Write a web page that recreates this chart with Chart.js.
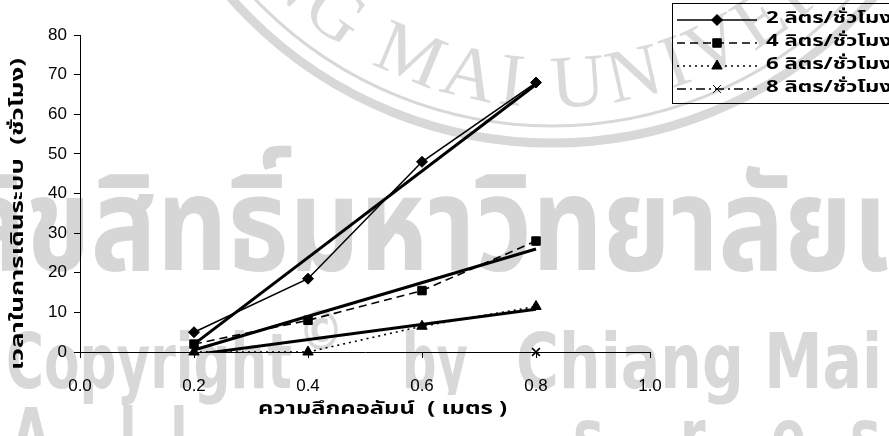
<!DOCTYPE html>
<html lang="th">
<head>
<meta charset="utf-8">
<title>เวลาในการเดินระบบ</title>
<script src="https://cdn.jsdelivr.net/npm/chart.js@4.4.1/dist/chart.umd.min.js"></script>
<style>
  html, body { margin: 0; padding: 0; background: #fff; }
  canvas { display: block; }
</style>
</head>
<body>
<canvas id="chart" width="889" height="436"></canvas>
<script>
// Column depth (m) against operating time (h) for each flow rate
const depths = [0.2, 0.4, 0.6, 0.8];
const flowLabels = ['2 ลิตร/ชั่วโมง', '4 ลิตร/ชั่วโมง', '6 ลิตร/ชั่วโมง', '8 ลิตร/ชั่วโมง'];
const hours2 = [5, 18.5, 48, 68];
const hours4 = [2, 8, 15.5, 28];
const hours6 = [0, 0, 6.5, 11.5];
const hours8 = [null, null, null, 0];

// Linear trend lines, from 0.2 m to 0.8 m
const trendDepths = [0.2, 0.8];
const trend2 = [2, 67.5];
const trend4 = [0.5, 26];
const trend6 = [-0.7, 10.8];

const xTickValues = [0, 0.2, 0.4, 0.6, 0.8, 1.0];
const yTickValues = [0, 10, 20, 30, 40, 50, 60, 70, 80];

const xTitle = 'ความลึกคอลัมน์  ( เมตร )';
const yTitle = 'เวลาในการเดินระบบ  (ชั่วโมง)';

const thaiFont = "'Noto Sans Thai','Noto Sans Thai UI','Loma','Garuda','Tlwg Typo','Norasi','Waree','Sarabun','Liberation Sans',sans-serif";
const tickFont = "'Liberation Sans Narrow','Arial Narrow','Liberation Sans',Arial,sans-serif";

const pts = (xs, ys) => xs.map((x, i) => ({ x, y: ys[i] }));

function seriesDataset(label, ys, pointStyle, radius, dash) {
  return {
    label, data: pts(depths, ys),
    borderColor: '#000', backgroundColor: '#000',
    borderWidth: 1.6, borderDash: dash,
    pointStyle, pointRadius: radius, pointHoverRadius: radius,
    pointBorderWidth: pointStyle === 'crossRot' ? 1.7 : 1,
    pointBorderColor: '#000', pointBackgroundColor: '#000',
    spanGaps: false, clip: false, order: 1, inLegend: true
  };
}
function trendDataset(ys) {
  return {
    label: 'trend', data: pts(trendDepths, ys),
    borderColor: '#000', borderWidth: 3, pointRadius: 0,
    order: 2, inLegend: false
  };
}

// scale a font so that a reference glyph reaches a given height
function fitFont(ctx, family, weight, glyph, height) {
  ctx.font = `${weight} 100px ${family}`;
  const a = ctx.measureText(glyph).actualBoundingBoxAscent || 72;
  return 100 * height / a;
}
// draw text squeezed or stretched horizontally to a given width
function fitText(ctx, text, x, y, width, measured) {
  const sx = width / ctx.measureText(measured || text).width;
  ctx.save(); ctx.translate(x, y); ctx.scale(sx, 1); ctx.fillText(text, 0, 0); ctx.restore();
  return sx;
}

// Faint grey page watermark behind the plot
const watermark = {
  id: 'watermark',
  beforeDraw(chart) {
    const ctx = chart.ctx;
    ctx.save();
    ctx.strokeStyle = '#d8d8d8';
    ctx.textBaseline = 'alphabetic';
    ctx.textAlign = 'left';

    // seal rings
    const cx = 552, cy = -285;
    ctx.lineWidth = 9;
    ctx.beginPath(); ctx.arc(cx, cy, 428, 0, Math.PI); ctx.stroke();
    ctx.lineWidth = 3;
    ctx.beginPath(); ctx.arc(cx, cy, 411, 0, Math.PI); ctx.stroke();

    // seal lettering along the lower arc
    ctx.fillStyle = '#dadada';
    const sealText = 'CHIANG MAI UNIVERSITY';
    ctx.font = "75px 'Liberation Serif','DejaVu Serif',serif";
    const R = 392, track = 6;
    const before = ctx.measureText('CHIANG ').width + 'CHIANG '.length * track;
    let s = -0.48 * R - before;
    for (const ch of sealText) {
      const w = ctx.measureText(ch).width;
      const phi = (s + w / 2) / R;
      ctx.save();
      ctx.translate(cx + R * Math.sin(phi), cy + R * Math.cos(phi));
      ctx.rotate(-phi);
      ctx.textAlign = 'center';
      ctx.fillText(ch, 0, 0);
      ctx.restore();
      s += w + track;
    }

    // Thai line
    ctx.fillStyle = '#d6d6d6';
    const size1 = fitFont(ctx, thaiFont, 'bold', 'ม', 72);
    ctx.font = `bold ${size1}px ${thaiFont}`;
    fitText(ctx, 'ลิขสิทธิ์มหาวิทยาลัยเชียงใหม่', -40, 270, 930, 'ลิขสิทธิ์มหาวิทยาลัยเ');

    // Latin lines
    ctx.fillStyle = '#d8d8d8';
    const fam = "'DejaVu Sans',Verdana,sans-serif";
    const size2 = fitFont(ctx, fam, 'bold', 'C', 58);
    ctx.font = `bold ${size2}px ${fam}`;
    const sx = fitText(ctx, 'Copyright', 6, 388, 286);
    fitText(ctx, 'by', 402, 388, 66);
    fitText(ctx, 'Chiang Mai University', 516, 388, 366, 'Chiang Mai');
    ctx.font = `bold ${size2 * 0.72}px ${fam}`;
    fitText(ctx, '©', 298, 350, 46);
    ctx.font = `bold ${size2}px ${fam}`;
    const rowChars = ['A', 'l', 'l', 'r', 'i', 'g', 'h', 't', 's', 'r', 'e', 's', 'e'];
    const rowX = [11, 119, 170, 262, 318, 360, 420, 478, 573, 680, 771, 850, 935];
    rowChars.forEach((c, i) => {
      ctx.save(); ctx.translate(rowX[i], 463); ctx.scale(sx, 1); ctx.fillText(c, 0, 0); ctx.restore();
    });
    ctx.restore();
  }
};

// Axis titles and the boxed legend
const annotations = {
  id: 'annotations',
  afterDraw(chart) {
    const ctx = chart.ctx;
    ctx.save();
    // x title on a white label box
    ctx.fillStyle = '#fff';
    ctx.fillRect(250, 395, 262, 41);
    ctx.fillStyle = '#000';
    ctx.font = `bold 17px ${thaiFont}`;
    ctx.textAlign = 'left';
    ctx.textBaseline = 'middle';
    fitText(ctx, xTitle, 258, 411, 249);
    // y title
    ctx.save();
    ctx.translate(20, 214);
    ctx.rotate(-Math.PI / 2);
    fitText(ctx, yTitle, -156, 0, 312);
    ctx.restore();

    // legend
    ctx.strokeStyle = '#000';
    ctx.lineWidth = 1;
    ctx.strokeRect(672.5, 3.5, 230, 100);
    const rows = chart.data.datasets.filter(d => d.inLegend);
    rows.forEach((d, i) => {
      const y = 20 + i * 23;
      ctx.save();
      ctx.lineWidth = d.borderWidth;
      ctx.setLineDash(d.borderDash || []);
      ctx.beginPath(); ctx.moveTo(677, y); ctx.lineTo(757, y); ctx.stroke();
      ctx.restore();
      ctx.fillStyle = '#000';
      Chart.helpers.drawPoint(ctx, {
        pointStyle: d.pointStyle, radius: d.pointRadius, rotation: 0, borderWidth: d.pointBorderWidth
      }, 717, y);
      ctx.fillStyle = '#000';
      ctx.font = `bold 16px ${thaiFont}`;
      ctx.textAlign = 'left';
      ctx.textBaseline = 'middle';
      fitText(ctx, d.label, 766, y, 126);
    });
    ctx.restore();
  }
};

new Chart(document.getElementById('chart'), {
  type: 'line',
  data: {
    datasets: [
      seriesDataset(flowLabels[0], hours2, 'rectRot', 5.5, []),
      seriesDataset(flowLabels[1], hours4, 'rect', 6, [8, 5]),
      seriesDataset(flowLabels[2], hours6, 'triangle', 6, [2, 4]),
      seriesDataset(flowLabels[3], hours8, 'crossRot', 5.5, [9, 4, 2, 4]),
      trendDataset(trend2),
      trendDataset(trend4),
      trendDataset(trend6)
    ]
  },
  options: {
    responsive: false,
    animation: false,
    events: [],
    layout: { padding: { left: 0, top: 35, right: 239, bottom: 0 } },
    plugins: { legend: { display: false }, tooltip: { enabled: false } },
    scales: {
      x: {
        type: 'linear', min: 0, max: 1,
        afterBuildTicks: s => { s.ticks = xTickValues.map(v => ({ value: v })); },
        afterFit: s => { s.height = 84; },
        border: { color: '#000', width: 1 },
        grid: { drawOnChartArea: false, color: '#000', tickLength: 6 },
        ticks: { color: '#000', padding: 18, maxRotation: 0,
                 font: { family: tickFont, size: 17 },
                 callback: v => Number(v).toFixed(1) }
      },
      y: {
        type: 'linear', min: 0, max: 80,
        afterBuildTicks: s => { s.ticks = yTickValues.map(v => ({ value: v })); },
        afterFit: s => { s.width = 80; },
        border: { color: '#000', width: 1 },
        grid: { drawOnChartArea: false, color: '#000', tickLength: 6 },
        ticks: { color: '#000', padding: 7,
                 font: { family: tickFont, size: 17 },
                 callback: v => String(v) }
      }
    }
  },
  plugins: [watermark, annotations]
});
</script>
</body>
</html>
